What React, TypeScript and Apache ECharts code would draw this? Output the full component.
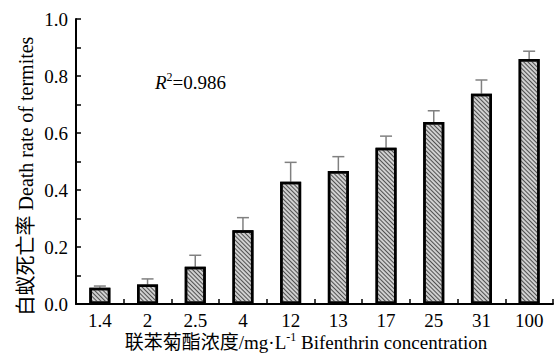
import React, { useEffect, useRef } from "react";
import * as echarts from "echarts";

const categories = ["1.4", "2", "2.5", "4", "12", "13", "17", "25", "31", "100"];
const deathRate = [0.057, 0.068, 0.131, 0.259, 0.429, 0.467, 0.548, 0.639, 0.738, 0.86];
const errorTop = [0.063, 0.088, 0.171, 0.303, 0.497, 0.517, 0.589, 0.678, 0.786, 0.887];
const yTicks = [0, 0.2, 0.4, 0.6, 0.8, 1.0];

const FONT = "'Liberation Serif', 'Times New Roman', 'Noto Sans CJK SC', serif";

export default function App() {
  const ref = useRef<HTMLDivElement>(null);
  useEffect(() => {
    if (!ref.current) return;
    const chart = echarts.init(ref.current, undefined, { renderer: "svg" });
    chart.setOption({
      animation: false,
      grid: { left: 76, right: 4, top: 19, bottom: 50, containLabel: false },
      xAxis: {
        type: "category",
        data: categories,
        boundaryGap: true,
        axisLine: { lineStyle: { color: "#000", width: 2 } },
        axisTick: { show: true, inside: true, length: 5, alignWithLabel: false, lineStyle: { color: "#000", width: 1.5 } },
        axisLabel: { color: "#000", fontFamily: FONT, fontSize: 19, margin: 7 },
        splitLine: { show: false },
      },
      yAxis: {
        type: "value",
        min: 0,
        max: 1.0,
        interval: 0.2,
        axisLine: { show: true, lineStyle: { color: "#000", width: 2 } },
        axisTick: { show: true, inside: true, length: 5, lineStyle: { color: "#000", width: 1.5 } },
        minorTick: { show: true, splitNumber: 2, length: 5, lineStyle: { color: "#000", width: 1.5 } },
        axisLabel: {
          color: "#000",
          fontFamily: FONT,
          fontSize: 19,
          margin: 8,
          formatter: (v: number) => (yTicks.some((t) => Math.abs(t - v) < 1e-9) ? v.toFixed(1) : ""),
        },
        splitLine: { show: false },
      },
      series: [
        {
          type: "bar",
          data: deathRate,
          barWidth: 21,
          itemStyle: {
            color: "#d0d0d0",
            borderColor: "#000",
            borderWidth: 2.5,
            decal: {
              symbol: "rect",
              dashArrayX: [1, 0],
              dashArrayY: [1, 1.1],
              rotation: Math.PI / 4,
              color: "#505050",
            },
          },
          z: 2,
        },
        {
          type: "custom",
          data: errorTop.map((e, i) => [i, deathRate[i], e]),
          z: 1,
          renderItem: (params: any, api: any) => {
            const i = api.value(0);
            const lo = api.coord([i, api.value(1)]);
            const hi = api.coord([i, api.value(2)]);
            const cap = 6;
            const style = { stroke: "#808080", lineWidth: 1.5 };
            return {
              type: "group",
              children: [
                { type: "line", shape: { x1: lo[0], y1: lo[1], x2: hi[0], y2: hi[1] }, style },
                { type: "line", shape: { x1: hi[0] - cap, y1: hi[1], x2: hi[0] + cap, y2: hi[1] }, style },
              ],
            };
          },
        },
      ],
      graphic: [
        {
          type: "text",
          x: 26,
          y: 176,
          rotation: Math.PI / 2,
          style: {
            text: "白蚁死亡率 Death rate of termites",
            font: `20px ${FONT}`,
            fill: "#000",
            align: "center",
            verticalAlign: "middle",
          },
        },
        {
          type: "text",
          x: 306,
          y: 342,
          style: {
            text: "{a|联苯菊酯浓度/mg·L}{s|-1}{a| Bifenthrin concentration}",
            font: `19px ${FONT}`,
            align: "center",
            verticalAlign: "middle",
            rich: {
              a: { font: `19px ${FONT}`, fill: "#000", lineHeight: 22 },
              s: { font: `12px ${FONT}`, fill: "#000", verticalAlign: "top", lineHeight: 22 },
            },
          },
        },
        {
          type: "text",
          x: 155,
          y: 82,
          style: {
            text: "{i|R}{s|2}{a|=0.986}",
            font: `19px ${FONT}`,
            align: "left",
            verticalAlign: "middle",
            rich: {
              i: { font: `italic 19px ${FONT}`, fill: "#000", lineHeight: 22 },
              s: { font: `12px ${FONT}`, fill: "#000", verticalAlign: "top", lineHeight: 22 },
              a: { font: `19px ${FONT}`, fill: "#000", lineHeight: 22 },
            },
          },
        },
      ],
    });
    return () => chart.dispose();
  }, []);
  return <div ref={ref} style={{ width: 557, height: 354, position: "absolute", left: 0, top: 0 }} />;
}
